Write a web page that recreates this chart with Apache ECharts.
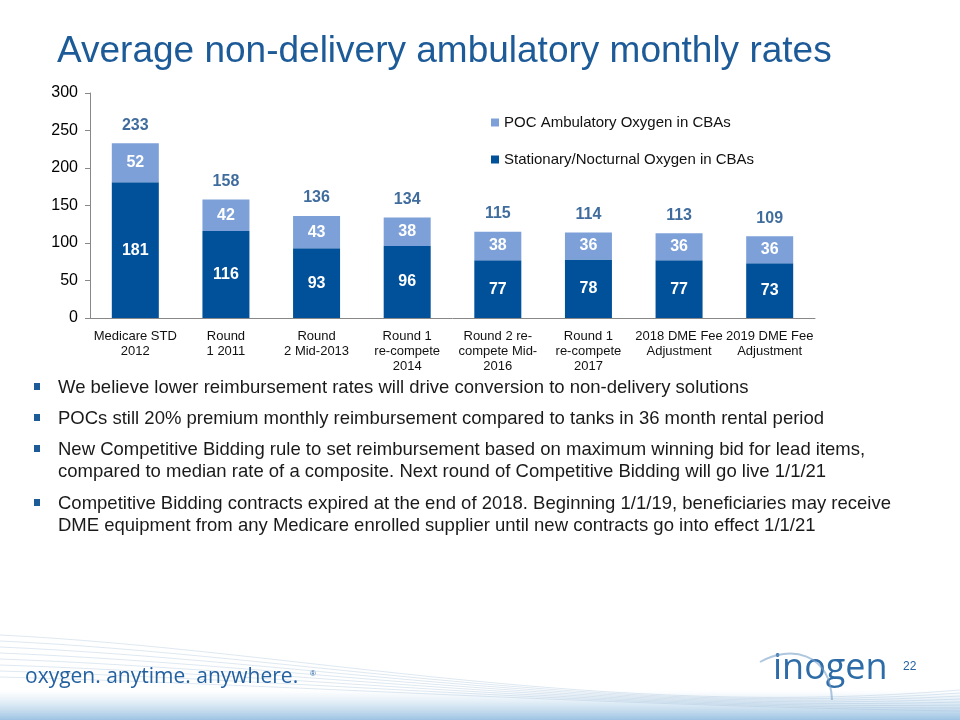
<!DOCTYPE html>
<html><head><meta charset="utf-8">
<script src="https://cdn.jsdelivr.net/npm/echarts@6/dist/echarts.min.js"></script>
<style>html,body{margin:0;padding:0;background:#fff}#c{width:960px;height:720px}</style>
</head><body><div id="c"></div>
<script>
const categories = ['Medicare STD\n2012','Round\n1 2011','Round\n2 Mid-2013','Round 1\nre-compete\n2014','Round 2 re-\ncompete Mid-\n2016','Round 1\nre-compete\n2017','2018 DME Fee\nAdjustment','2019 DME Fee\nAdjustment'];
const stationary = [181,116,93,96,77,78,77,73];
const poc = [52,42,43,38,38,36,36,36];
const totals = [233,158,136,134,115,114,113,109];
const yTicks = [0,50,100,150,200,250,300];
const bullets = [
  'We believe lower reimbursement rates will drive conversion to non-delivery solutions',
  'POCs still 20% premium monthly reimbursement compared to tanks in 36 month rental period',
  'New Competitive Bidding rule to set reimbursement based on maximum winning bid for lead items,\ncompared to median rate of a composite. Next round of Competitive Bidding will go live 1/1/21',
  'Competitive Bidding contracts expired at the end of 2018. Beginning 1/1/19, beneficiaries may receive\nDME equipment from any Medicare enrolled supplier until new contracts go into effect 1/1/21'
];
const bulletY = [387, 418, 449, 503];

const FONT = '"Liberation Sans", Arial, sans-serif';
const DARK = '#00509A';
const LIGHT = '#7DA0D8';
const chart = echarts.init(document.getElementById('c'), null, {renderer:'canvas'});

const graphics = [
  {type:'text', left:57, top:33, style:{text:'Average non-delivery ambulatory monthly rates', font:'37px '+FONT, fill:'#1C5A98'}}
];
bullets.forEach((b,i)=>{
  graphics.push({type:'rect', shape:{x:34, y:bulletY[i]-4, width:6, height:7}, style:{fill:'#1C5A98'}});
  graphics.push({type:'text', x:58, y:bulletY[i]-10, style:{text:b, font:'18.5px '+FONT, fill:'#1a1a1a', lineHeight:22, verticalAlign:'top'}});
});
// footer decoration
graphics.push({type:'rect', shape:{x:0,y:690,width:960,height:30}, style:{fill:new echarts.graphic.LinearGradient(0,0,0,1,[{offset:0,color:'rgba(200,222,240,0)'},{offset:1,color:'#9cc3e2'}])}, z:-1});
for (let k=0;k<8;k++){
  graphics.push({type:'bezierCurve', shape:{x1:0,y1:635+k*6,cpx1:300,cpy1:650+k*5,cpx2:600,cpy2:720-k*2,x2:960,y2:690+k*3}, style:{stroke:'rgba(160,190,215,0.35)', lineWidth:1, fill:null}, z:-1});
}
graphics.push({type:'text', x:25, y:667, style:{text:'oxygen. anytime. anywhere.', font:'21px "Open Sans", '+FONT, fill:'#2461A0'}});
graphics.push({type:'text', x:310, y:670, style:{text:'®', font:'8px '+FONT, fill:'#2461A0'}});
graphics.push({type:'text', x:773, y:651, style:{text:'inogen', font:'36px "Open Sans", '+FONT, fill:'#2E6CA8'}});
graphics.push({type:'bezierCurve', shape:{x1:760,y1:662,cpx1:790,cpy1:645,cpx2:830,cpy2:652,x2:832,y2:700}, style:{stroke:'rgba(120,160,200,0.6)', lineWidth:2, fill:null}});
graphics.push({type:'text', x:903, y:661, style:{text:'22', font:'12px '+FONT, fill:'#2461A0'}});

chart.setOption({
  animation:false,
  textStyle:{fontFamily:FONT},
  grid:{left:90, right:145, top:93, bottom:402, containLabel:false},
  legend:{
    orient:'vertical', left:486, top:110, itemGap:22, itemWidth:8, itemHeight:8, icon:'rect',
    data:['POC Ambulatory Oxygen in CBAs','Stationary/Nocturnal Oxygen in CBAs'],
    textStyle:{fontSize:15, color:'#111', fontFamily:FONT}
  },
  xAxis:{
    type:'category', data:categories,
    axisLine:{lineStyle:{color:'#888'}}, axisTick:{show:false},
    axisLabel:{interval:0, fontSize:13, color:'#111', lineHeight:15, margin:11}
  },
  yAxis:{
    type:'value', min:0, max:300, interval:50,
    axisLine:{show:true, lineStyle:{color:'#888'}}, axisTick:{show:true, length:5, lineStyle:{color:'#888'}},
    splitLine:{show:false},
    axisLabel:{fontSize:16, color:'#000', margin:12, formatter:v=>yTicks.includes(v)?String(v):''}
  },
  series:[
    {name:'Stationary/Nocturnal Oxygen in CBAs', type:'bar', stack:'a', data:stationary, barWidth:47,
     itemStyle:{color:DARK},
     label:{show:true, position:'inside', color:'#fff', fontSize:16, fontWeight:'bold'}},
    {name:'POC Ambulatory Oxygen in CBAs', type:'bar', stack:'a', data:poc, barWidth:47,
     itemStyle:{color:LIGHT},
     label:{show:true, position:'inside', color:'#fff', fontSize:16, fontWeight:'bold'}},
    {name:'Total', type:'scatter', data:totals, symbolSize:0, silent:true,
     label:{show:true, position:'top', distance:10, color:'#0F4785', fontSize:16, fontWeight:'bold'}}
  ],
  graphic:graphics
});
</script></body></html>
